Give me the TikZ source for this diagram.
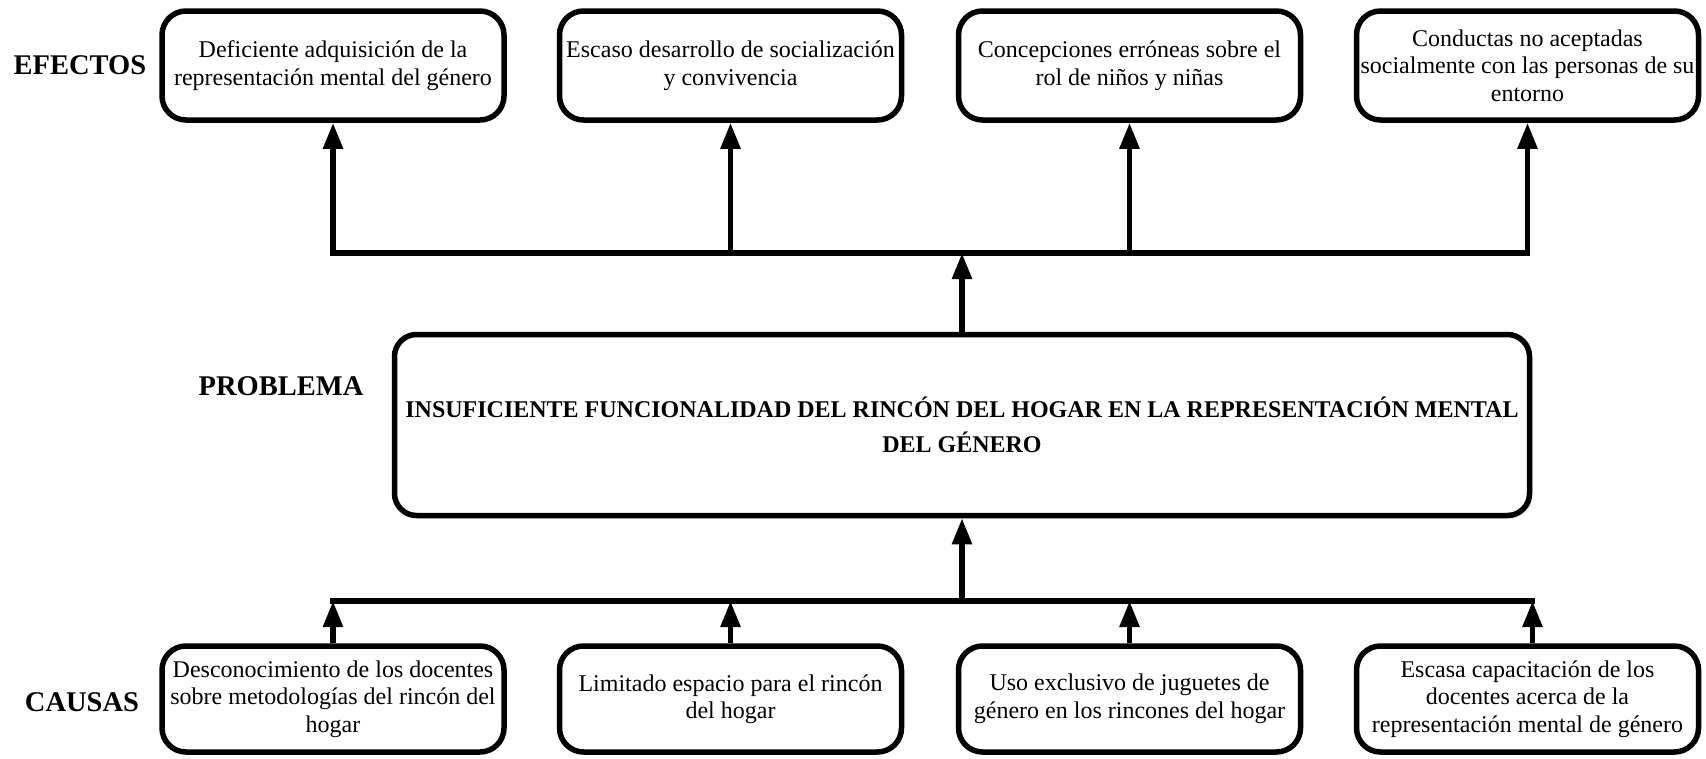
\documentclass[tikz,border=0pt]{standalone}
\usepackage{fontspec}
\setmainfont{Liberation Serif}
\usetikzlibrary{arrows.meta,shadows}
\begin{document}
\begin{tikzpicture}[x=1pt,y=-1pt,
  box/.style={draw, line width=5.5pt, rounded corners=24pt, minimum width=342pt,
    inner sep=0pt, align=center, fill=white, font=\fontsize{24}{27.5}\selectfont},
  pbox/.style={draw, line width=5.5pt, rounded corners=22pt, minimum width=1135pt,
    minimum height=181pt, inner sep=0pt, align=center, fill=white,
    drop shadow={shadow xshift=3pt, shadow yshift=-3pt, opacity=0.2},
    font=\fontsize{24}{35}\selectfont\bfseries},
  lbl/.style={font=\fontsize{28.5}{32}\selectfont\bfseries},
  conn/.style={line width=5.5pt, line cap=rect},
  arr/.style={line width=5.5pt, -{Triangle[width=19pt,length=26pt]}}]
\useasboundingbox (0,0) rectangle (1706,758);

% labels
\node[lbl] (lE) at (80,65) {EFECTOS};
\node[lbl] (lP) at (281,386) {PROBLEMA};
\node[lbl] (lC) at (82,702) {CAUSAS};

% effects
\node[box, minimum height=109pt] (e1) at (333,65.5) {Deficiente adquisición de la\\representación mental del género};
\node[box, minimum height=109pt] (e2) at (730.5,65.5) {Escaso desarrollo de socialización\\y convivencia};
\node[box, minimum height=109pt] (e3) at (1129.5,65.5) {Concepciones erróneas sobre el\\rol de niños y niñas};
\node[box, minimum height=109pt] (e4) at (1527.5,65.5) {Conductas no aceptadas\\socialmente con las personas de su\\entorno};

% problem
\node[pbox] (p) at (962,425) {INSUFICIENTE FUNCIONALIDAD DEL RINCÓN DEL HOGAR EN LA REPRESENTACIÓN MENTAL\\DEL GÉNERO};

% causes
\node[box, minimum height=106pt] (c1) at (333,699) {Desconocimiento de los docentes\\sobre metodologías del rincón del\\hogar};
\node[box, minimum height=106pt] (c2) at (730.5,699) {Limitado espacio para el rincón\\del hogar};
\node[box, minimum height=106pt] (c3) at (1129.5,699) {Uso exclusivo de juguetes de\\género en los rincones del hogar};
\node[box, minimum height=106pt] (c4) at (1527.5,699) {Escasa capacitación de los\\docentes acerca de la\\representación mental de género};

\coordinate (tb) at (0,253);
\coordinate (bb) at (0,601);
\coordinate (c4a) at ([xshift=5pt]c4.north);

% top bus
\draw[conn] (e1.south |- tb) -- (e4.south |- tb);
\foreach \n in {e1,e2,e3,e4}{
  \draw[arr] (\n.south |- tb) -- (\n.south);
}
\draw[arr] (p.north) -- (p.north |- tb);

% bottom bus
\draw[conn] (c1.north |- bb) -- (c4a |- bb);
\foreach \n in {c1,c2,c3}{
  \draw[arr] (\n.north) -- (\n.north |- bb);
}
\draw[arr] (c4a) -- (c4a |- bb);
\draw[arr] (p.south |- bb) -- (p.south);
\end{tikzpicture}
\end{document}
